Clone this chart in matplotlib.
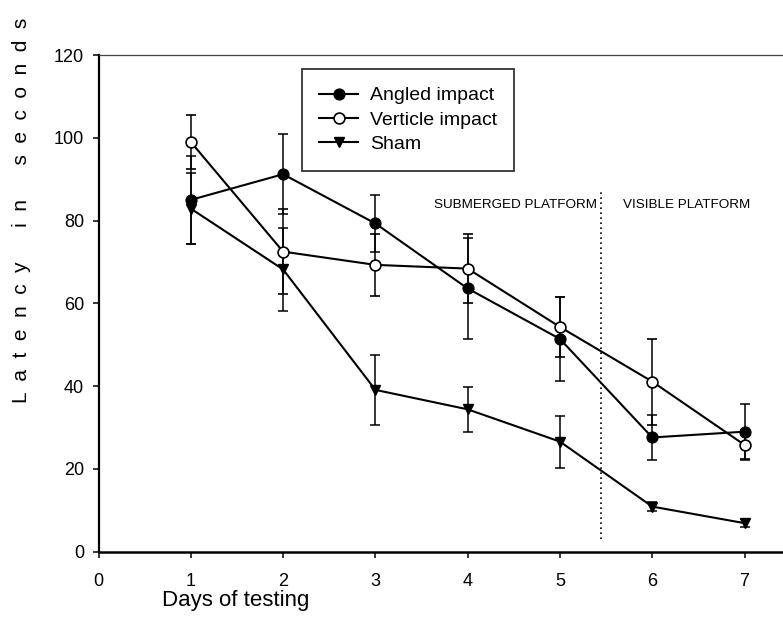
import matplotlib
matplotlib.use("Agg")
import matplotlib.pyplot as plt
from matplotlib.lines import Line2D

plt.rcParams["font.family"] = ["Liberation Sans", "DejaVu Sans"]

# data
days = [1, 2, 3, 4, 5, 6, 7]
angled = [85.0, 91.2, 79.3, 63.6, 51.4, 27.6, 29.0]
angled_err = [10.7, 9.6, 6.8, 12.2, 10.1, 5.5, 6.8]
verticle = [99.0, 72.5, 69.3, 68.4, 54.3, 41.1, 25.8]
verticle_err = [6.5, 10.2, 7.4, 8.3, 7.3, 10.4, 3.5]
sham = [82.9, 68.2, 39.1, 34.4, 26.6, 10.9, 6.9]
sham_err = [8.5, 10.0, 8.4, 5.4, 6.3, 1.0, 1.0]

x_ticks = [0, 1, 2, 3, 4, 5, 6, 7]
y_ticks = [0, 20, 40, 60, 80, 100, 120]

divider_x = 5.45
divider_y = (3, 87)

fig = plt.figure(figsize=(7.83, 6.39), dpi=100)
ax = fig.add_axes([0.1258, 0.1366, 0.884, 0.7773])

lw = 1.5
ms = 7.8
err_kw = dict(color="black", elinewidth=1.1, capsize=3.8, capthick=1.1, linewidth=lw)

ax.errorbar(days, angled, yerr=angled_err, marker="o", markersize=ms,
            markerfacecolor="black", markeredgecolor="black", zorder=3, **err_kw)
ax.errorbar(days, verticle, yerr=verticle_err, marker="o", markersize=ms,
            markerfacecolor="white", markeredgecolor="black", markeredgewidth=1.2,
            zorder=3, **err_kw)
ax.errorbar(days, sham, yerr=sham_err, marker="v", markersize=ms,
            markerfacecolor="black", markeredgecolor="black", zorder=3, **err_kw)

ax.vlines(divider_x, divider_y[0], divider_y[1], colors="black",
          linestyles=(0, (1, 2)), linewidth=1.2)

ax.text(5.40, 83.7, "SUBMERGED PLATFORM", ha="right", va="center", fontsize=9.7)
ax.text(5.68, 83.7, "VISIBLE PLATFORM", ha="left", va="center", fontsize=9.7)

ax.set_xlim(0, 7.5)
ax.set_ylim(0, 120)
ax.set_xticks(x_ticks)
ax.set_yticks(y_ticks)
ax.tick_params(direction="out", length=4.3, width=1.1, labelsize=13)
ax.tick_params(axis="x", pad=11)
ax.tick_params(axis="y", pad=6)

ax.spines["left"].set_linewidth(1.6)
ax.spines["bottom"].set_linewidth(1.8)
ax.spines["top"].set_linewidth(0.9)
ax.spines["top"].set_color("#444444")
ax.spines["right"].set_visible(False)

handles = [
    Line2D([], [], color="black", lw=lw, marker="o", markersize=ms,
           markerfacecolor="black"),
    Line2D([], [], color="black", lw=lw, marker="o", markersize=ms,
           markerfacecolor="white", markeredgewidth=1.2),
    Line2D([], [], color="black", lw=lw, marker="v", markersize=ms,
           markerfacecolor="black"),
]
labels = ["Angled impact", "Verticle impact", "Sham"]
leg = ax.legend(handles, labels, loc="upper left", bbox_to_anchor=(0.2936, 0.9712),
                fontsize=14, frameon=True, fancybox=False, edgecolor="black",
                handlelength=2.0, handletextpad=0.6, labelspacing=0.35,
                borderpad=0.9, borderaxespad=0)
leg.get_frame().set_linewidth(1.3)

ylabel_words = ["Latency", "in", "seconds"]
ylabel = (" " * 6).join("  ".join(w) for w in ylabel_words)
fig.text(0.028, 0.671, ylabel, rotation=90, ha="center", va="center", fontsize=15)
fig.text(161.7 / 783, 0.061, "Days of testing", ha="left", va="center", fontsize=16)

fig.savefig("out.png", dpi=100)
